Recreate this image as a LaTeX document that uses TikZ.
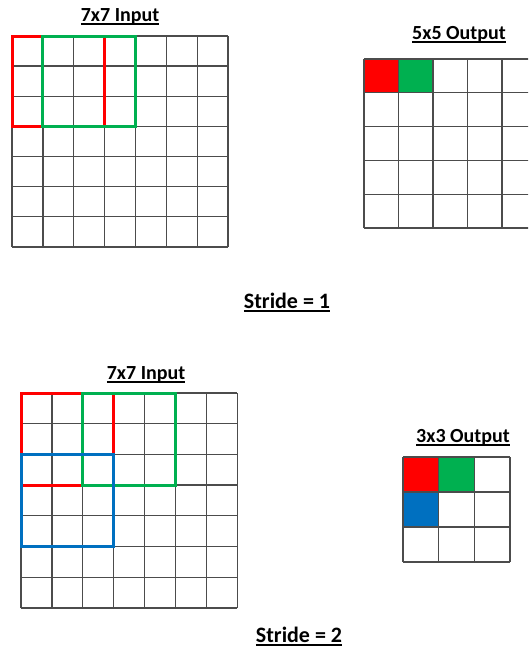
\documentclass[tikz,border=0pt]{standalone}
\usepackage{fontspec}
\setmainfont{Carlito}
\usetikzlibrary{positioning,calc}

\definecolor{kred}{RGB}{255,0,0}
\definecolor{kgreen}{RGB}{0,176,80}
\definecolor{kblue}{RGB}{0,112,192}

% underlined heading text
\newcommand{\ulined}[1]{\setbox0=\hbox{#1}\rlap{\vrule height -2pt depth 3.8pt width \wd0}\box0}

\tikzset{
	gridline/.style={line width=1.3pt, black!70},
	kernel/.style={line width=3pt},
	heading/.style={font=\bfseries\fontsize{20}{22}\selectfont, inner sep=0pt, anchor=base},
	stridelbl/.style={font=\bfseries\fontsize{22}{24}\selectfont, inner sep=0pt, anchor=base}
}

\begin{document}
\begin{tikzpicture}[x=1pt, y=-1pt]
	\useasboundingbox (0,0) rectangle (528,653);
	% stride 1
	\node[heading] (in1) at (120,21) {\ulined{7x7 Input}};
	\node[heading] (out1) at (459,39) {\ulined{5x5 Output}};
	\node[stridelbl] (s1) at (287,308) {\ulined{Stride = 1}};
	\begin{scope}[shift={(12,36)}, x=30.86pt, y=-30.14pt]
		\foreach \i in {0,...,7} {
			\draw[gridline] (\i,0) -- (\i,7);
			\draw[gridline] (0,\i) -- (7,\i);
		}
		\draw[kernel, kred] (0,0) rectangle (3,3);
		\draw[kernel, kgreen] (1,0) rectangle (4,3);
	\end{scope}
	\begin{scope}
		\clip (0,0) rectangle (528,653);
		\begin{scope}[shift={(364,59)}, x=34.5pt, y=-33.8pt]
			\fill[kred] (0,0) rectangle (1,1);
			\fill[kgreen] (1,0) rectangle (2,1);
			\foreach \i in {0,...,5} {
				\draw[gridline] (\i,0) -- (\i,5);
				\draw[gridline] (0,\i) -- (5,\i);
			}
		\end{scope}
	\end{scope}
	% stride 2
	\node[heading] (in2) at (146,379) {\ulined{7x7 Input}};
	\node[heading] (out2) at (463,442) {\ulined{3x3 Output}};
	\node[stridelbl] (s2) at (299,642) {\ulined{Stride = 2}};
	\begin{scope}[shift={(21,393)}, x=30.9pt, y=-30.7pt]
		\foreach \i in {0,...,7} {
			\draw[gridline] (\i,0) -- (\i,7);
			\draw[gridline] (0,\i) -- (7,\i);
		}
		\draw[kernel, kred] (0,0) rectangle (3,3);
		\draw[kernel, kgreen] (2,0) rectangle (5,3);
		\draw[kernel, kblue] (0,2) rectangle (3,5);
	\end{scope}
	\begin{scope}[shift={(403,457)}, x=35.7pt, y=-35pt]
		\fill[kred] (0,0) rectangle (1,1);
		\fill[kgreen] (1,0) rectangle (2,1);
		\fill[kblue] (0,1) rectangle (1,2);
		\foreach \i in {0,...,3} {
			\draw[gridline] (\i,0) -- (\i,3);
			\draw[gridline] (0,\i) -- (3,\i);
		}
	\end{scope}
\end{tikzpicture}
\end{document}
